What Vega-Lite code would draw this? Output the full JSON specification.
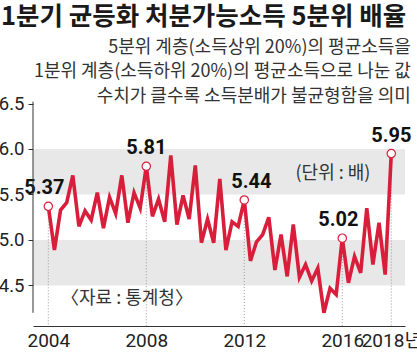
{
  "$schema": "https://vega.github.io/schema/vega-lite/v6.json",
  "width": 372,
  "height": 326,
  "autosize": "none",
  "padding": {"left": 33, "top": 0, "right": 12, "bottom": 28},
  "background": "white",
  "config": {"view": {"stroke": null}},
  "datasets": {
    "series": [
      {"t": 2004.00, "v": 5.37}, {"t": 2004.25, "v": 4.89}, {"t": 2004.50, "v": 5.33}, {"t": 2004.75, "v": 5.41},
      {"t": 2005.00, "v": 5.71}, {"t": 2005.25, "v": 5.15}, {"t": 2005.50, "v": 5.32}, {"t": 2005.75, "v": 5.22},
      {"t": 2006.00, "v": 5.52}, {"t": 2006.25, "v": 5.13}, {"t": 2006.50, "v": 5.47}, {"t": 2006.75, "v": 5.29},
      {"t": 2007.00, "v": 5.71}, {"t": 2007.25, "v": 5.19}, {"t": 2007.50, "v": 5.52}, {"t": 2007.75, "v": 5.35},
      {"t": 2008.00, "v": 5.81}, {"t": 2008.25, "v": 5.26}, {"t": 2008.50, "v": 5.45}, {"t": 2008.75, "v": 5.20},
      {"t": 2009.00, "v": 5.93}, {"t": 2009.25, "v": 5.17}, {"t": 2009.50, "v": 5.49}, {"t": 2009.75, "v": 5.23},
      {"t": 2010.00, "v": 5.82}, {"t": 2010.25, "v": 4.97}, {"t": 2010.50, "v": 5.23}, {"t": 2010.75, "v": 4.97},
      {"t": 2011.00, "v": 5.67}, {"t": 2011.25, "v": 4.89}, {"t": 2011.50, "v": 5.20}, {"t": 2011.75, "v": 5.15},
      {"t": 2012.00, "v": 5.44}, {"t": 2012.25, "v": 4.77}, {"t": 2012.50, "v": 4.98}, {"t": 2012.75, "v": 5.06},
      {"t": 2013.00, "v": 5.25}, {"t": 2013.25, "v": 4.67}, {"t": 2013.50, "v": 5.06}, {"t": 2013.75, "v": 4.60},
      {"t": 2014.00, "v": 5.17}, {"t": 2014.25, "v": 4.59}, {"t": 2014.50, "v": 4.73}, {"t": 2014.75, "v": 4.55},
      {"t": 2015.00, "v": 4.69}, {"t": 2015.25, "v": 4.20}, {"t": 2015.50, "v": 4.47}, {"t": 2015.75, "v": 4.40},
      {"t": 2016.00, "v": 5.02}, {"t": 2016.25, "v": 4.53}, {"t": 2016.50, "v": 4.82}, {"t": 2016.75, "v": 4.64},
      {"t": 2017.00, "v": 5.35}, {"t": 2017.25, "v": 4.73}, {"t": 2017.50, "v": 5.19}, {"t": 2017.75, "v": 4.62},
      {"t": 2018.00, "v": 5.95}
    ],
    "bands": [
      {"v": 5.5, "v2": 6.0},
      {"v": 4.5, "v2": 5.0}
    ],
    "yline": [
      {"v": 4.2, "v2": 6.52}
    ],
    "heading": [
      {"t": 2002.07, "v": 7.4505, "text": "1분기 균등화 처분가능소득 5분위 배율"}
    ],
    "subtitle": [
      {"t": 2018.8, "v": 7.11, "text": "5분위 계층(소득상위 20%)의 평균소득을"},
      {"t": 2018.8, "v": 6.846, "text": "1분위 계층(소득하위 20%)의 평균소득으로 나눈 값"},
      {"t": 2018.8, "v": 6.571, "text": "수치가 클수록 소득분배가 불균형함을 의미"}
    ],
    "notes": [
      {"t": 2015.62, "v": 5.725, "text": "(단위 : 배)"},
      {"t": 2007.21, "v": 4.352, "text": "〈자료 : 통계청〉"}
    ]
  },
  "layer": [
    {
      "data": {"name": "bands"},
      "mark": {"type": "rect", "color": "#e8e8e8"},
      "encoding": {
        "y": {"field": "v", "type": "quantitative", "title": null},
        "y2": {"field": "v2"}
      }
    },
    {
      "data": {"name": "series"},
      "transform": [{"filter": {"field": "t", "oneOf": [2004, 2008, 2012, 2016, 2018]}}],
      "mark": {"type": "rule", "color": "#9a9a9a", "strokeWidth": 1, "strokeDash": [1, 2]},
      "encoding": {
        "x": {"field": "t", "type": "quantitative", "title": null},
        "y": {"field": "v", "type": "quantitative", "title": null},
        "y2": {"datum": 4.0549}
      }
    },
    {
      "data": {"name": "series"},
      "mark": {"type": "line", "color": "#d81e3a", "strokeWidth": 3.6},
      "encoding": {
        "x": {
          "field": "t",
          "type": "quantitative",
          "title": null,
          "scale": {"domain": [2003.375, 2018.56], "nice": false, "zero": false},
          "axis": {
            "title": null,
            "values": [2004, 2008, 2012, 2016, 2018],
            "format": "d",
            "labelExpr": "datum.value == 2018 ? '2018년' : datum.label",
            "grid": false,
            "ticks": false,
            "domainColor": "#333333",
            "labelFont": "Roboto, Noto Sans CJK KR",
            "labelFontSize": 19,
            "labelColor": "#222222",
            "labelPadding": 5,
            "labelFlush": false,
            "labelOverlap": false,
            "encode": {
              "labels": {
                "update": {
                  "align": {"signal": "datum.value == 2016 ? 'right' : datum.value == 2018 ? 'left' : 'center'"},
                  "dx": {"signal": "datum.value == 2018 ? -45 : 0"}
                }
              }
            }
          }
        },
        "y": {
          "field": "v",
          "type": "quantitative",
          "title": null,
          "scale": {"domain": [4.0549, 7.6374], "nice": false, "zero": false},
          "axis": {
            "title": null,
            "values": [4.5, 5, 5.5, 6, 6.5],
            "format": ".1f",
            "domain": false,
            "grid": false,
            "tickSize": 5,
            "tickColor": "#333333",
            "labelPadding": 4,
            "labelFont": "Roboto",
            "labelFontSize": 18.5,
            "labelColor": "#222222"
          }
        }
      }
    },
    {
      "data": {"name": "series"},
      "transform": [{"filter": {"field": "t", "oneOf": [2004, 2008, 2012, 2016, 2018]}}],
      "mark": {"type": "circle", "fill": "white", "stroke": "#d81e3a", "strokeWidth": 1.2, "size": 70, "opacity": 1},
      "encoding": {
        "x": {"field": "t", "type": "quantitative", "title": null},
        "y": {"field": "v", "type": "quantitative", "title": null}
      }
    },
    {
      "data": {"name": "series"},
      "transform": [{"filter": {"field": "t", "oneOf": [2004, 2008, 2012, 2016, 2018]}}],
      "mark": {
        "type": "text",
        "font": "Roboto",
        "fontWeight": "bold",
        "fontSize": 20,
        "color": "#111111",
        "baseline": "middle",
        "align": "center",
        "dy": -18,
        "dx": {"expr": "datum.t == 2004 ? -4 : datum.t == 2012 ? 7 : datum.t == 2016 ? -4 : 0"}
      },
      "encoding": {
        "x": {"field": "t", "type": "quantitative", "title": null},
        "y": {"field": "v", "type": "quantitative", "title": null},
        "text": {"field": "v", "type": "quantitative", "format": ".2f"}
      }
    },
    {
      "data": {"name": "heading"},
      "mark": {"type": "text", "font": "Noto Sans CJK KR", "fontSize": 25.5, "fontWeight": "bold", "color": "#1a1a1a", "align": "left", "baseline": "middle"},
      "encoding": {
        "x": {"field": "t", "type": "quantitative", "title": null},
        "y": {"field": "v", "type": "quantitative", "title": null},
        "text": {"field": "text"}
      }
    },
    {
      "data": {"name": "subtitle"},
      "mark": {"type": "text", "font": "Noto Sans CJK KR", "fontSize": 18, "color": "#333333", "align": "right", "baseline": "middle"},
      "encoding": {
        "x": {"field": "t", "type": "quantitative", "title": null},
        "y": {"field": "v", "type": "quantitative", "title": null},
        "text": {"field": "text"}
      }
    },
    {
      "data": {"name": "notes"},
      "mark": {"type": "text", "font": "Noto Sans CJK KR", "fontSize": 18, "color": "#333333", "align": "center", "baseline": "middle"},
      "encoding": {
        "x": {"field": "t", "type": "quantitative", "title": null},
        "y": {"field": "v", "type": "quantitative", "title": null},
        "text": {"field": "text"}
      }
    },
    {
      "data": {"name": "yline"},
      "mark": {"type": "rule", "color": "#333333", "strokeWidth": 1},
      "encoding": {
        "x": {"datum": 2003.375},
        "y": {"field": "v", "type": "quantitative", "title": null},
        "y2": {"field": "v2"}
      }
    }
  ]
}
